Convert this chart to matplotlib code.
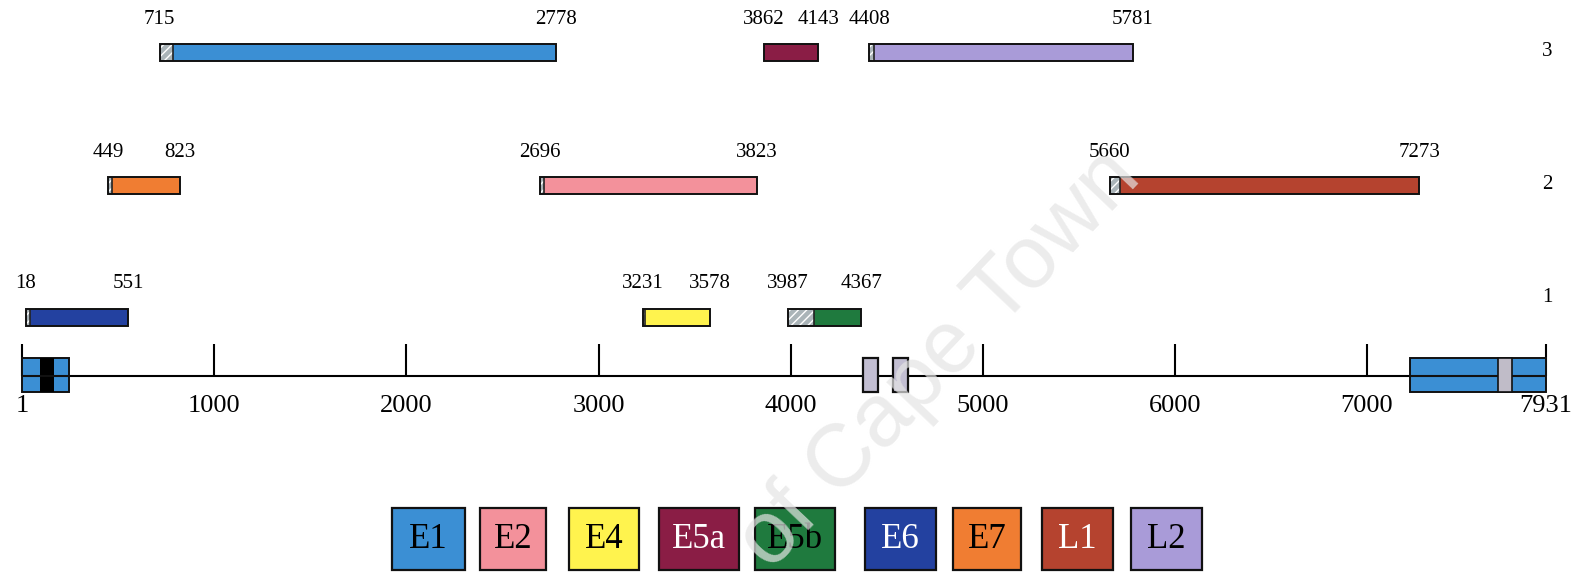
import matplotlib
matplotlib.use("Agg")
import matplotlib.pyplot as plt
from matplotlib.patches import Rectangle

# open reading frames of the genome
genes = ['E1', 'E2', 'E4', 'E5a', 'E5b', 'E6', 'E7', 'L1', 'L2']
starts = [715, 2696, 3231, 3862, 3987, 18, 449, 5660, 4408]
ends = [2778, 3823, 3578, 4143, 4367, 551, 823, 7273, 5781]
frames = [3, 2, 1, 3, 1, 1, 2, 2, 3]
lead_in = [68, 20, 12, 0, 135, 20, 20, 52, 26]   # hatched overlap at the 5' end
colors = ['#3b8fd4', '#f3919b', '#fff34e', '#8a1d45', '#1f7a3e',
          '#2341a0', '#f07d32', '#b5432f', '#a99bd8']
text_colors = ['black', 'black', 'black', 'white', 'black',
               'white', 'black', 'white', 'black']

genome_len = 7931
tick_vals = [1, 1000, 2000, 3000, 4000, 5000, 6000, 7000, genome_len]

# features drawn on the genome line
lcr_left = (1, 244)
lcr_left_core = (93, 166)
lcr_right = (7224, genome_len)
lcr_right_core = (7682, 7755)
small_boxes = [(4377, 4455), (4533, 4611)]

plt.rcParams['hatch.linewidth'] = 1.0
serif = 'Liberation Serif'

fig = plt.figure(figsize=(15.85, 5.72), dpi=100)
ax = fig.add_axes([0, 0, 1, 1])
ax.set_xlim(-115.6, 8135)
ax.set_ylim(572, 0)
ax.axis('off')

row_y = {3: 52.5, 2: 185.5, 1: 317}
bar_h = 17

for g, s, e, f, li, c in zip(genes, starts, ends, frames, lead_in, colors):
    y = row_y[f]
    ax.add_patch(Rectangle((s, y - bar_h / 2), e - s, bar_h, facecolor=c,
                           edgecolor='none', zorder=2))
    if li > 0:
        ax.add_patch(Rectangle((s, y - bar_h / 2), li, bar_h, facecolor='#aab4b8',
                               edgecolor='white', hatch='////', linewidth=0, zorder=3))
        ax.vlines(s + li, y - bar_h / 2, y + bar_h / 2, color='#222222', lw=1.2, zorder=4)
    ax.add_patch(Rectangle((s, y - bar_h / 2), e - s, bar_h, facecolor='none',
                           edgecolor='#111111', linewidth=1.4, zorder=5))
    ax.text(s, y - 33, str(s), ha='center', va='center', fontsize=15, family=serif)
    ax.text(e, y - 33, str(e), ha='center', va='center', fontsize=15, family=serif)

for f, y in row_y.items():
    ax.text(7937, y - 1 if f != 1 else y - 19, str(f), ha='center', va='center',
            fontsize=15, family=serif)

# genome line with ticks
line_y = 376
ax.hlines(line_y, 1, genome_len, color='black', lw=1.5, zorder=1)
ax.vlines(tick_vals, 344, line_y, color='black', lw=1.5, zorder=1)
for t in tick_vals:
    ax.text(t, 406, str(t), ha='center', va='center', fontsize=19, family=serif)

box_top, box_h = 358, 34
ax.add_patch(Rectangle((lcr_left[0], box_top), lcr_left[1] - lcr_left[0], box_h,
                       facecolor='#3b8fd4', edgecolor='#111111', lw=1.4, zorder=2))
ax.add_patch(Rectangle((lcr_left_core[0], box_top), lcr_left_core[1] - lcr_left_core[0],
                       box_h, facecolor='black', edgecolor='none', zorder=3))
ax.hlines(line_y, lcr_left[0], lcr_left[1], color='#111111', lw=1.5, zorder=3)

ax.add_patch(Rectangle((lcr_right[0], box_top), lcr_right[1] - lcr_right[0], box_h,
                       facecolor='#3b8fd4', edgecolor='#111111', lw=1.4, zorder=2))
ax.hlines(line_y, lcr_right[0], lcr_right[1], color='#111111', lw=1.5, zorder=3)
ax.add_patch(Rectangle((lcr_right_core[0], box_top), lcr_right_core[1] - lcr_right_core[0],
                       box_h, facecolor='#c0bcc8', edgecolor='#111111', lw=1.2, zorder=4))

for a, b in small_boxes:
    ax.add_patch(Rectangle((a, box_top), b - a, box_h, facecolor='#c2bed2',
                           edgecolor='#111111', lw=1.6, zorder=2))

# colour key
lg = fig.add_axes([0, 0, 1, 1])
lg.set_xlim(0, 1585)
lg.set_ylim(572, 0)
lg.axis('off')
key_x = [428, 513, 604, 699, 795, 900, 987, 1077, 1166]
key_w = [73, 66, 70, 80, 80, 71, 68, 71, 71]
for g, c, tc, x, w in zip(genes, colors, text_colors, key_x, key_w):
    lg.add_patch(Rectangle((x - w / 2, 508), w, 62, facecolor=c,
                           edgecolor='#111111', lw=1.6))
    lg.text(x, 540, g, ha='center', va='center', fontsize=25, family=serif, color=tc)

fig.text(940 / 1585, 1 - 360 / 572, 'of Cape Town', rotation=46.5, rotation_mode='anchor',
         ha='center', va='center', fontsize=64, family='Liberation Sans',
         color='#e4e4e4', alpha=0.7, zorder=20)

fig.savefig('out.png', dpi=100)
